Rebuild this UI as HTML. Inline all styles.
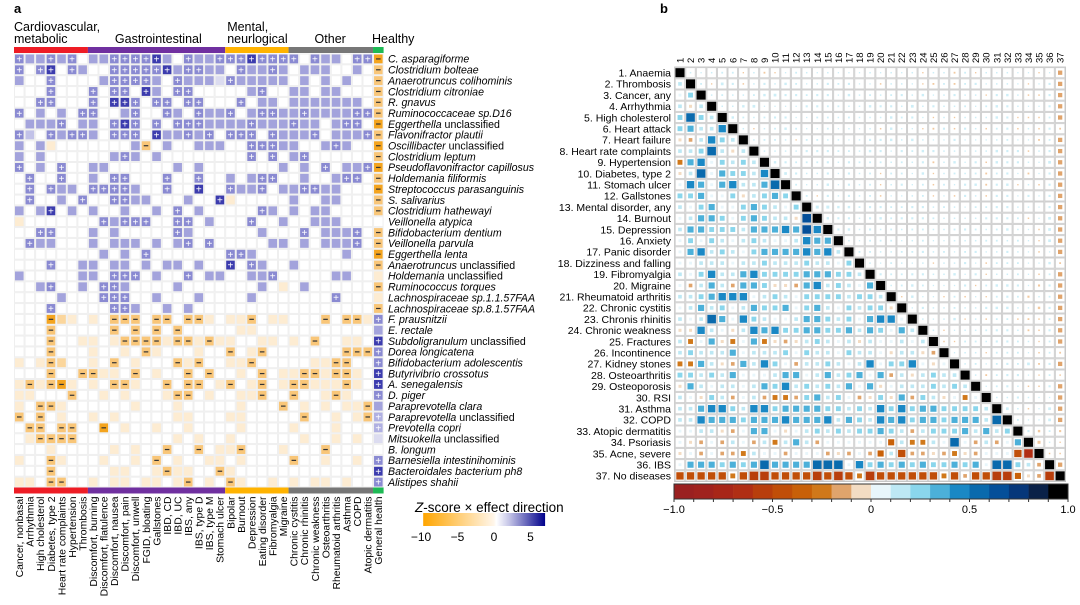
<!DOCTYPE html>
<html><head><meta charset="utf-8"><style>
body{margin:0;background:#fff;width:1080px;height:600px;overflow:hidden}
svg{font-family:"Liberation Sans",sans-serif}
</style></head><body>
<svg id="fig" width="1080" height="600" xmlns="http://www.w3.org/2000/svg"></svg>
<script>
// ---------- Panel a data ----------
const species=["C. asparagiforme","Clostridium bolteae","Anaerotruncus colihominis","Clostridium citroniae","R. gnavus","Ruminococcaceae sp.D16","Eggerthella unclassified","Flavonifractor plautii","Oscillibacter unclassified","Clostridium leptum","Pseudoflavonifractor capillosus","Holdemania filiformis","Streptococcus parasanguinis","S. salivarius","Clostridium hathewayi","Veillonella atypica","Bifidobacterium dentium","Veillonella parvula","Eggerthella lenta","Anaerotruncus unclassified","Holdemania unclassified","Ruminococcus torques","Lachnospiraceae sp.1.1.57FAA","Lachnospiraceae sp.8.1.57FAA","F. prausnitzii","E. rectale","Subdoligranulum unclassified","Dorea longicatena","Bifidobacterium adolescentis","Butyrivibrio crossotus","A. senegalensis","D. piger","Paraprevotella clara","Paraprevotella unclassified","Prevotella copri","Mitsuokella unclassified","B. longum","Barnesiella intestinihominis","Bacteroidales bacterium ph8","Alistipes shahii"];
const diseases=["Cancer, nonbasal","Arrhythmia","High cholesterol","Diabetes, type 2","Heart rate complaints","Hypertension","Thrombosis","Discomfort, burning","Discomfort, flatulence","Discomfort, nausea","Discomfort, pain","Discomfort, unwell","FGID, bloating","Gallstones","IBD, CD","IBD, UC","IBS, any","IBS, type D","IBS, type M","Stomach ulcer","Bipolar","Burnout","Depression","Eating disorder","Fibromyalgia","Migraine","Chronic cystitis","Chronic rhinitis","Chronic weakness","Osteoarthritis","Rheumatoid arthritis","Asthma","COPD","Atopic dermatitis","General health"];
const cellRows=[
"+PP+P+.PP++++#P.+PP+++#++++.+PP.++",
"+.+#.+P..+++++#P++PP.+PP+P.PPP..P.",
"P..+....P++++P.+PPPl+PPPPP.P.P.P..",
"...+...+.++.#P.++.....P+..PP.PP...",
"..++...+.##+.++.++...+.PP.PPPPPPP.",
"+.P.P.++..P+..+P.+PP+.P++PP+PPPP++",
".PPP+.PP.+#+.+.+++PPPP+PPP+PP.P++.",
"+p.+P++P.+++.#PP+P+.+++.+PPP+.PPP+",
"P.Po.......P-.P..PPP..+++PP..P+P..",
"P.P......P+P.P........+.+.P+......",
"+.P.+..PP......P.P.......P.P.+.PP+",
".+..+..P.++...+..+..P.P++..P..P++.",
".+.+PP.++++P..+..#..+PP+.PP++PP...",
".+..P.+..++PP...P..#o.....P..PP...",
"P.P#.P.P..P..P.+.P.....+P.P.PP....",
"o.......+P+++..++.P...+..P..PPP...",
"..++...P.P.....+P......P...+.PPP+.",
".+PP...P.PPP.P.P+.+.....PP.P.PPP+.",
"........P.P.+.......++P........P..",
"...+..PP.PP.P.PP.P..#.+P..P.......",
"P.....PP.+++.P..+.PP..PP+.....PP..",
"..P+..P.++P....P.......P.o.P......",
"....P...+++..P...P....P.......+...",
"...+.....++P..P.P.................",
"...=Oo.o.---.--.--o.oo-.oo...-.--o",
"...-.....-.-.-.-.....oo...........",
"...-..oo.o----o--o-oo..oo.o.-..oo.",
"...-...o..o.-o...o..-.o-.......---",
"o.o-O..o.-.o...-o-..oo-.....oo--..",
"...-..--oo.-.o..-.-..o.-.oo--o--o.",
"o-o-=o.o.--o..-.--.o-.o-.o--ooo-o.",
"oo...-..o.o...o--.o..oo-..-..o-o..",
"o.--o......o...o.....o...-.o.o.oo-",
"-.-.o..o.o.....oo...oo.....-..o.o-",
".--.--..=.o..o..o....o....o...o...",
".o----.........o.o..o......o..o.o.",
"...o.....o.o..-..-.oo-...o...-....",
"o..-o...o..o.-.o..oo.o....-..o..o.",
"...-.....oo..o-oo..-o.............",
"oo.--..o.oo.oo.o-.o.-o..o.o.oo.o.."];
const healthCol="=-----=-=-=-=--.--=-o-o-+P#++##+Pqql.+#+";
const groups=["Cardiovascular,|metabolic","Gastrointestinal","Mental,|neurlogical","Other","Healthy"];
const groupSizes=[7,13,6,8,1];
const zTicks=[-10,-5,0,5];
// ---------- Panel b data ----------
const conds=["1. Anaemia","2. Thrombosis","3. Cancer, any","4. Arrhythmia","5. High cholesterol","6. Heart attack","7. Heart failure","8. Heart rate complaints","9. Hypertension","10. Diabetes, type 2","11. Stomach ulcer","12. Gallstones","13. Mental disorder, any","14. Burnout","15. Depression","16. Anxiety","17. Panic disorder","18. Dizziness and falling","19.  Fibromyalgia","20.  Migraine","21. Rheumatoid arthritis","22. Chronic cystitis","23. Chronis rhinitis","24. Chronic weakness","25. Fractures","26. Incontinence","27. Kidney stones","28. Osteoarthritis","29. Osteoporosis","30. RSI","31. Asthma","32. COPD","33. Atopic dermatitis","34. Psoriasis","35. Acne, severe","36. IBS","37. No diseases"];
const corrRows=["","1","02","1a1","2521","23114","ab1421","11251a1","c3402121","a15032214","0430341135","223002a1232","102300232102","01332023211a6","13322213334364","020210121001433","0341210233334341","00111011211121102","102411342222333221","0b131b332aab3412103","11234440121022221221","01312013223023102122a","1015304210013321203440","aa410a14342233223132031","1c03ac03caba12101a100101","12111301112021102110a11ab","cc31ab31420b112101402240a0","22121300013301312303b1a1211","a310110132412121303a01112121","10a21b01bccb23120ba2a3b21a0c0","113442144233332212142423322221","1143332333433341321434233233315","0011ab0330a01212122321b122231312","0ab0b10b1c131b000000d1cc1050b1b03","a0b0bbc100b000bab0bd1ebbabcab000eg","03332323533335550423232322323055 21b","eeeeeceffeeeefefecfeeeeeecebeeffdabf"];
const cbTicks=[-1.0,-0.5,0,0.5,1.0];

const svg=document.getElementById('fig');
const NS="http://www.w3.org/2000/svg";
function mk(tag,attrs,parent){const e=document.createElementNS(NS,tag);for(const k in attrs)e.setAttribute(k,attrs[k]);(parent||svg).appendChild(e);return e;}
function txt(s,attrs,parent){const e=mk('text',attrs,parent);e.textContent=s;return e;}

// ===== Panel a =====
const ax0=14,colW=10.56,ay0=53.5,rowH=10.85;
const X=i=>ax0+i*colW, Y=r=>ay0+r*rowH;
const pa=mk('g',{});
txt('a',{x:14,y:13,'font-size':13,'font-weight':'bold'},pa);
const gcol=["#ee1c25","#7030a0","#ffb300","#777777","#1db954"];
let gi=0;
groups.forEach((g,k)=>{
  const x1=X(gi),x2=X(gi+groupSizes[k]);
  const r1=mk('rect',{x:x1,y:47,width:x2-x1,height:6,fill:gcol[k]},pa);
  const r2=mk('rect',{x:x1,y:Y(40),width:x2-x1,height:6,fill:gcol[k]},pa);
  const lines=g.split('|');
  const tx=k==1?x1+27:(k==4?x1-1:x1+(k==3?26:(k==2?2:0)));
  lines.forEach((l,j)=>{const t=txt(l,{x:tx,y:lines.length==2?(j==0?31:43):43,'font-size':12.5},pa);});
  gi+=groupSizes[k];
});
const cmap={'.':'#ffffff','l':'#dcdcf0','p':'#c2c2e8','P':'#a3a3dc','+':'#8a8ad2','#':'#3c3cae','q':'#b0b0e2','o':'#fdecd2','O':'#fbd69c','-':'#f9c678','=':'#f4a41e'};
mk('rect',{x:X(0),y:Y(0),width:X(35)-X(0),height:Y(40)-Y(0),fill:'#fff'},pa);
species.forEach((sp,r)=>{
  const row=(cellRows[r]+'.'.repeat(34)).slice(0,34)+healthCol[r];
  for(let c=0;c<35;c++){
    const ch=row[c];
    const rc=mk('rect',{x:X(c)+0.5,y:Y(r)+0.5,width:colW-1,height:rowH-1,fill:cmap[ch]||'#fff',stroke:'#efefef','stroke-width':1},pa);
    
    
    if(ch=='+'||ch=='#'||ch=='q'){txt('+',{x:X(c)+colW/2,y:Y(r)+rowH/2+3.6,'font-size':10,'text-anchor':'middle',fill:'#fff'},pa);}
    if(ch=='-'||ch=='='){mk('rect',{x:X(c)+3,y:Y(r)+rowH/2-0.6,width:colW-6,height:1.2,fill:'#333'},pa);}
  }
  const t=txt(sp,{x:388,y:Y(r)+rowH/2+3.8,'font-size':10.6,'font-style':'italic'},pa);
  
  
  if(sp.endsWith(' unclassified')){t.textContent='';const a=mk('tspan',{},t);a.textContent=sp.replace(' unclassified','');const b=mk('tspan',{'font-style':'normal'},t);b.textContent=' unclassified';}
});
diseases.forEach((d,c)=>{
  const cx=X(c)+colW/2+3.8, y0=Y(40)+9;
  const t=txt(d,{x:0,y:0,'font-size':10.4,'text-anchor':'end',transform:`translate(${cx},${y0}) rotate(-90)`},pa);
  
  
});
// legend a
const lg=mk('g',{},pa);
const defs=mk('defs',{});
const grad=mk('linearGradient',{id:'zg',x1:0,x2:1,y1:0,y2:0},defs);
[['0','#ffa500'],['0.58','#fff6ea'],['0.6','#ffffff'],['0.7','#c8c8e8'],['1','#00008b']].forEach(s=>mk('stop',{offset:s[0],'stop-color':s[1]},grad));
const zx=v=>494+v*7.3;
const lt=txt('',{x:415,y:512,'font-size':13.5},lg);
const ti=mk('tspan',{'font-style':'italic'},lt);ti.textContent='Z';const tr=mk('tspan',{},lt);tr.textContent='-score × effect direction';
mk('rect',{x:zx(-9.7),y:513,width:zx(7)-zx(-9.7),height:13,fill:'url(#zg)'},lg);
zTicks.forEach(v=>{const t=txt(v<0?'−'+(-v):String(v),{x:zx(v),y:541,'font-size':12,'text-anchor':'middle'},lg);});

// ===== Panel b =====
const pb=mk('g',{});
txt('b',{x:660,y:13,'font-size':13,'font-weight':'bold'},pb);
const bx0=674.7,bw=10.56,by0=67.1,bh=11.2;
const BX=j=>bx0+j*bw, BY=i=>by0+i*bh;
const pos=['#e8f6fb','#bde8f4','#8ad6ec','#4cb0d9','#1a88c5','#0a6aad','#054f99','#06377a','#0a2148','#000000'];
const neg=['#f3dcc3','#e0a46c','#d0781a','#c86008','#c04e08','#b83e0c','#b02e14','#a82618','#a0221e','#9a2020'];
function val(ch){if(ch>='0'&&ch<='9')return ch=='0'?0.04:(+ch)/10;const k='abcdefghij'.indexOf(ch);return k<0?0:-(k==0?0.05:k/10);}
function col(v){const b=Math.min(9,Math.floor(Math.abs(v)*10));return v>=0?pos[b]:neg[b];}
mk('rect',{x:BX(0),y:BY(0),width:BX(37)-BX(0),height:BY(37)-BY(0),fill:'#fff',stroke:'#bbb'},pb);
for(let i=0;i<37;i++){
  const rs=(corrRows[i]||'').replace(/ /g,'');
  for(let j=0;j<37;j++){
    mk('rect',{x:BX(j)+0.5,y:BY(i)+0.5,width:bw-1,height:bh-1,fill:'none',stroke:'#d0d0d0','stroke-width':1},pb);
    let v,sz,fill;
    if(i==j){v=1;sz=bw-1.5;fill='#000';}
    else if(j<i){v=val(rs[j]||'0');sz=(bw-2)*Math.min(1,0.28+Math.abs(v)*1.45);fill=col(v);}
    else {const rr=(corrRows[j]||'').replace(/ /g,'');v=val(rr[i]||'0');sz=(bw-2)*Math.min(0.4,0.14+Math.abs(v)*0.35);fill=v<0?'#f1c9a0':'#cdeef7';if(j==36&&v<=-0.4){sz=(bw-2)*0.5;fill=neg[1];}}
    const m=mk('rect',{x:BX(j)+bw/2-sz/2,y:BY(i)+bh/2-sz/2,width:sz,height:sz,fill:fill},pb);
    
    
  }
  const t=txt(conds[i],{x:671,y:BY(i)+bh/2+3.8,'font-size':10.5,'text-anchor':'end'},pb);
  
  
  const n=txt(String(i+1),{x:0,y:0,'font-size':9.5,transform:`translate(${BX(i)+bw/2+3.5},${63}) rotate(-90)`},pb);
  
  
}
// colorbar b
const cb=mk('g',{},pb);
const cx=v=>674+(v+1)*197;
for(let k=0;k<20;k++){const v=-1+k*0.1;mk('rect',{x:cx(v),y:484,width:197*0.1+0.3,height:15,fill:k<10?neg[9-k]:pos[k-10]},cb);}
mk('rect',{x:cx(-1),y:484,width:394,height:15,fill:'none',stroke:'#333','stroke-width':1},cb);
for(let k=0;k<=20;k++)mk('line',{x1:cx(-1+k*0.1),x2:cx(-1+k*0.1),y1:499,y2:502,stroke:'#333'},cb);
cbTicks.forEach(v=>{const t=txt(v==0?'0':(v<0?'−':'')+Math.abs(v).toFixed(1),{x:cx(v),y:513,'font-size':11,'text-anchor':'middle'},cb);});
</script>
</body></html>
